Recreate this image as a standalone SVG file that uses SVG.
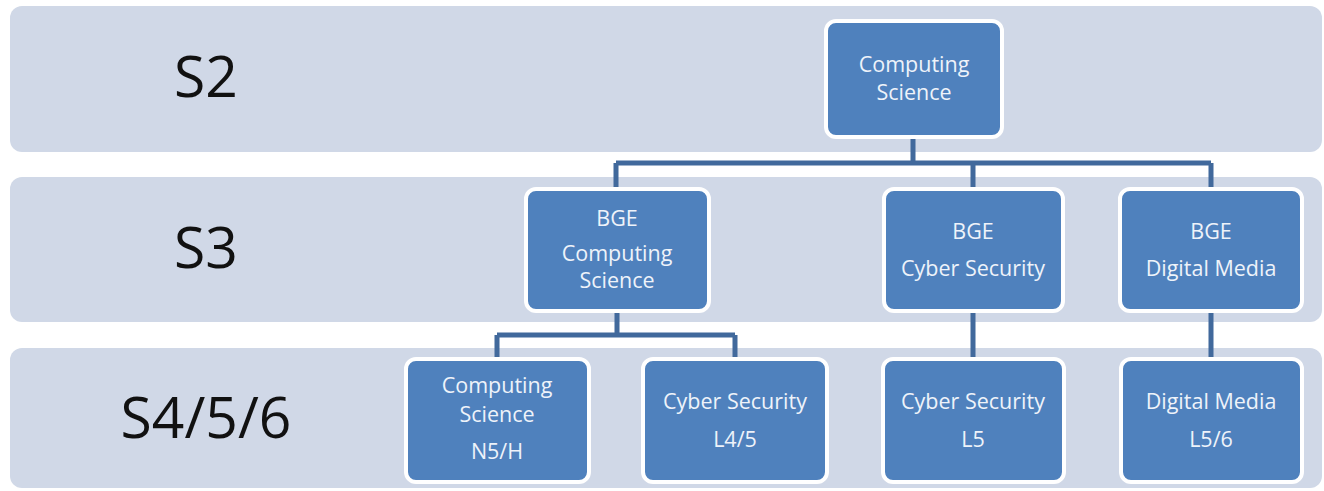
<svg xmlns="http://www.w3.org/2000/svg" width="1324" height="491" viewBox="0 0 1324 491">
<style>
.band{fill:#d0d8e7}
.row{font-family:"Open Sans","Noto Sans",sans-serif;font-size:57px;fill:#111;text-anchor:middle}
.node rect{fill:#4f81bd;stroke:#fff;stroke-width:4}
.node text{font-family:"Open Sans","Noto Sans",sans-serif;font-size:21.5px;fill:#eef3fa;text-anchor:middle}
.conn{stroke:#41699c;stroke-width:5;fill:none}
</style>
<rect width="1324" height="491" fill="#fff"/>
<g id="bands">
<rect class="band" x="10" y="6" width="1312" height="146" rx="12"/>
<rect class="band" x="10" y="177" width="1312" height="145" rx="12"/>
<rect class="band" x="10" y="348" width="1312" height="140" rx="12"/>
<text class="row" x="206" y="97">S2</text>
<text class="row" x="206" y="268">S3</text>
<text class="row" x="206" y="438">S4/5/6</text>
</g>
<g id="connectors">
<path class="conn" d="M913 138V163M616 163H1211M616 163V188M973 163V188M1211 163V188"/>
<path class="conn" d="M617 312V335M497 335H735M497 335V358M735 335V358"/>
<path class="conn" d="M973 312V358M1211 312V358"/>
</g>
<g id="n-cs" class="node"><rect x="826" y="21" width="176" height="116" rx="10"/><text x="914" y="72">Computing</text><text x="914" y="100">Science</text></g>
<g id="n-bge-cs" class="node"><rect x="526" y="189" width="183" height="122" rx="10"/><text x="617" y="226">BGE</text><text x="617" y="261">Computing</text><text x="617" y="288">Science</text></g>
<g id="n-bge-cyber" class="node"><rect x="884" y="189" width="179" height="122" rx="10"/><text x="973" y="239">BGE</text><text x="973" y="276">Cyber Security</text></g>
<g id="n-bge-dm" class="node"><rect x="1120" y="189" width="182" height="122" rx="10"/><text x="1211" y="239">BGE</text><text x="1211" y="276">Digital Media</text></g>
<g id="n-cs-n5h" class="node"><rect x="406" y="359" width="183" height="123" rx="10"/><text x="497" y="393">Computing</text><text x="497" y="422">Science</text><text x="497" y="459">N5/H</text></g>
<g id="n-cyber-l45" class="node"><rect x="643" y="359" width="184" height="123" rx="10"/><text x="735" y="409">Cyber Security</text><text x="735" y="447">L4/5</text></g>
<g id="n-cyber-l5" class="node"><rect x="883" y="359" width="181" height="123" rx="10"/><text x="973" y="409">Cyber Security</text><text x="973" y="447">L5</text></g>
<g id="n-dm-l56" class="node"><rect x="1121" y="359" width="181" height="123" rx="10"/><text x="1211" y="409">Digital Media</text><text x="1211" y="447">L5/6</text></g>
</svg>
